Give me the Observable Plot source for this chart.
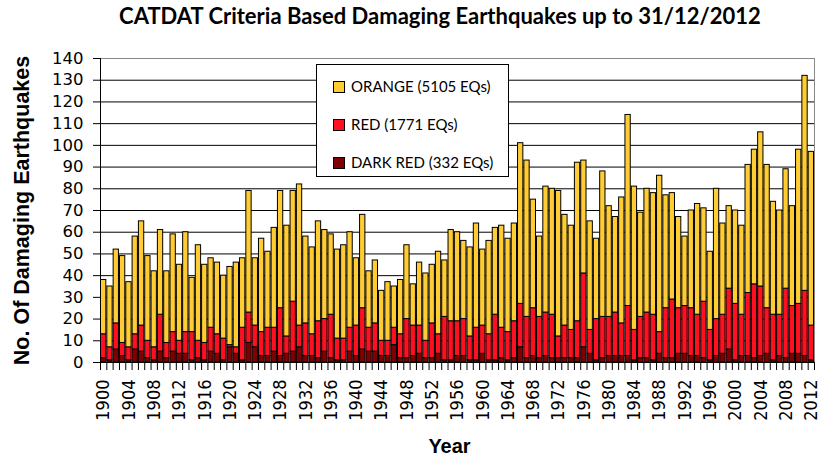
<!DOCTYPE html>
<html><head><meta charset="utf-8">
<script src="https://cdn.jsdelivr.net/npm/d3@7"></script>
<script src="https://cdn.jsdelivr.net/npm/@observablehq/plot@0.6"></script>
<style>
body{margin:0;background:#fff;}
#wrap{position:relative;width:836px;height:468px;overflow:hidden;}
#title{position:absolute;left:0;width:880px;top:2px;text-align:center;font-family:Lato,sans-serif;font-weight:bold;font-size:22px;color:#000;}
#legend{position:absolute;left:316px;top:64px;width:191px;height:111px;border:1px solid #000;background:#fff;font-family:Lato,sans-serif;font-size:15px;color:#000;}
.item{position:absolute;left:16px;height:16px;line-height:16px;white-space:nowrap;}
.sw{display:inline-block;width:10px;height:10px;border:1px solid #000;margin-right:6px;vertical-align:-1px;}
#chart{position:absolute;left:0;top:0;}
</style></head><body>
<div id="wrap">
  <div id="chart"></div>
  <div id="title"></div>
  <div id="legend"></div>
</div>
<script>
const titleText = "CATDAT Criteria Based Damaging Earthquakes up to 31/12/2012";
const years = d3.range(1900, 2013);
const categories = ["DARK RED", "RED", "ORANGE"];
const colors = ["#7F0000", "#FF1020", "#FFCC33"];
const legendTotals = {"ORANGE": 5105, "RED": 1771, "DARK RED": 332};

const darkRed = [2,1,6,3,1,6,5,2,1,5, 2,5,4,4,1,2,1,5,4,1, 7,4,1,9,7,3,3,5,3,4, 5,7,3,3,2,5,2,1,1,5,
  3,6,5,5,3,3,8,2,2,3, 4,2,2,4,1,1,3,3,1,1, 4,1,1,2,1,2,7,2,3,2, 3,2,2,2,2,2,7,4,1,2,
  3,3,3,3,1,2,2,1,4,2, 2,4,4,3,3,2,1,3,4,6, 1,3,3,2,3,4,1,3,2,4, 4,3,1];
const red = [11,6,12,6,6,7,12,8,6,17, 7,9,6,10,13,8,8,11,9,10, 1,3,15,14,10,11,13,11,22,8, 23,10,15,10,17,15,20,10,10,11,
  14,19,11,13,7,7,8,11,18,14, 13,8,16,9,20,18,16,17,11,15, 13,12,21,14,13,17,20,19,22,19, 20,20,10,15,13,17,34,11,19,19,
  18,20,15,23,14,19,21,21,10,23, 27,21,22,22,19,26,14,17,18,28, 26,19,29,34,32,21,21,19,32,22, 23,30,16];
const orange = [25,28,34,40,30,45,48,39,35,39, 33,45,35,46,25,44,36,32,33,29, 36,39,32,56,31,43,35,46,54,51, 51,65,40,40,46,41,37,41,43,44,
  31,43,26,29,23,27,19,25,34,19, 29,31,27,38,26,42,41,36,41,48, 35,43,40,47,43,45,74,72,50,37, 58,58,67,51,48,73,52,50,37,67,
  51,44,58,88,66,48,57,56,72,52, 49,42,32,45,51,43,36,60,42,38, 43,41,59,62,71,66,52,48,55,46, 71,99,80];

const series = {"DARK RED": darkRed, "RED": red, "ORANGE": orange};
const data = [];
years.forEach((y, i) => categories.forEach(c => data.push({year: y, type: c, count: series[c][i]})));

const plotLeft = 100, plotRight = 814, plotTop = 58, plotBottom = 362;
const step = (plotRight - plotLeft) / years.length;
const labelYears = years.filter(y => (y - 1900) % 4 === 0);

const chart = Plot.plot({
  width: 836, height: 468,
  marginLeft: plotLeft, marginRight: 836 - plotRight, marginTop: plotTop, marginBottom: 468 - plotBottom,
  style: {fontFamily: "DejaVu Sans, sans-serif", fontSize: "16px", color: "#000", background: "white", overflow: "visible"},
  x: {domain: years, paddingInner: 0.16, paddingOuter: 0.08, axis: null},
  y: {domain: [0, 140], axis: null},
  color: {domain: categories, range: colors},
  marks: [
    Plot.ruleY(d3.range(10, 140, 10), {stroke: "#000", strokeWidth: 1}),
    Plot.ruleY([140], {stroke: "#888", strokeWidth: 1}),
    Plot.barY(data, {x: "year", y: "count", fill: "type", order: categories, stroke: "#000", strokeWidth: 1}),
    Plot.ruleY([0], {stroke: "#000"}),
    Plot.ruleX([years[0]], {dx: -step / 2, y1: 0, y2: 140, stroke: "#000"}),
    Plot.ruleX([years[years.length - 1]], {dx: step / 2, y1: 0, y2: 140, stroke: "#888"}),
    Plot.axisY({ticks: d3.range(0, 141, 10), tickSize: 7, tickPadding: 10, anchor: "left", label: null, fontSize: 16.5, fontFamily: "DejaVu Sans, sans-serif"}),
    Plot.axisX({ticks: years, tickSize: 8, tickFormat: () => "", dx: -step / 2, label: null}),
    Plot.axisX({ticks: [years[years.length - 1]], tickSize: 8, tickFormat: () => "", dx: step / 2, label: null}),
    Plot.axisX({ticks: labelYears, tickSize: 0, tickPadding: 17, tickRotate: -90, tickFormat: d => String(d), label: null, fontSize: 18, fontFamily: "Liberation Sans Narrow, DejaVu Sans Condensed, sans-serif"}),
    Plot.text(["No. Of Damaging Earthquakes"], {frameAnchor: "left", dx: -78, rotate: -90, textAnchor: "middle", fontWeight: "bold", fontSize: 21.5, fontFamily: "Liberation Sans, Arial, sans-serif"}),
    Plot.text(["Year"], {frameAnchor: "bottom", dx: -8, dy: 90, fontWeight: "bold", fontSize: 20, fontFamily: "Liberation Sans, Arial, sans-serif"})
  ]
});
document.getElementById("chart").appendChild(chart);
document.getElementById("title").textContent = titleText;

const legend = document.getElementById("legend");
["ORANGE", "RED", "DARK RED"].forEach((c, i) => {
  const it = document.createElement("div");
  it.className = "item";
  it.style.top = (13 + i * 38) + "px";
  const sw = document.createElement("span");
  sw.className = "sw";
  sw.style.background = colors[categories.indexOf(c)];
  it.appendChild(sw);
  it.appendChild(document.createTextNode(`${c} (${legendTotals[c]} EQs)`));
  legend.appendChild(it);
});
</script>
</body></html>
